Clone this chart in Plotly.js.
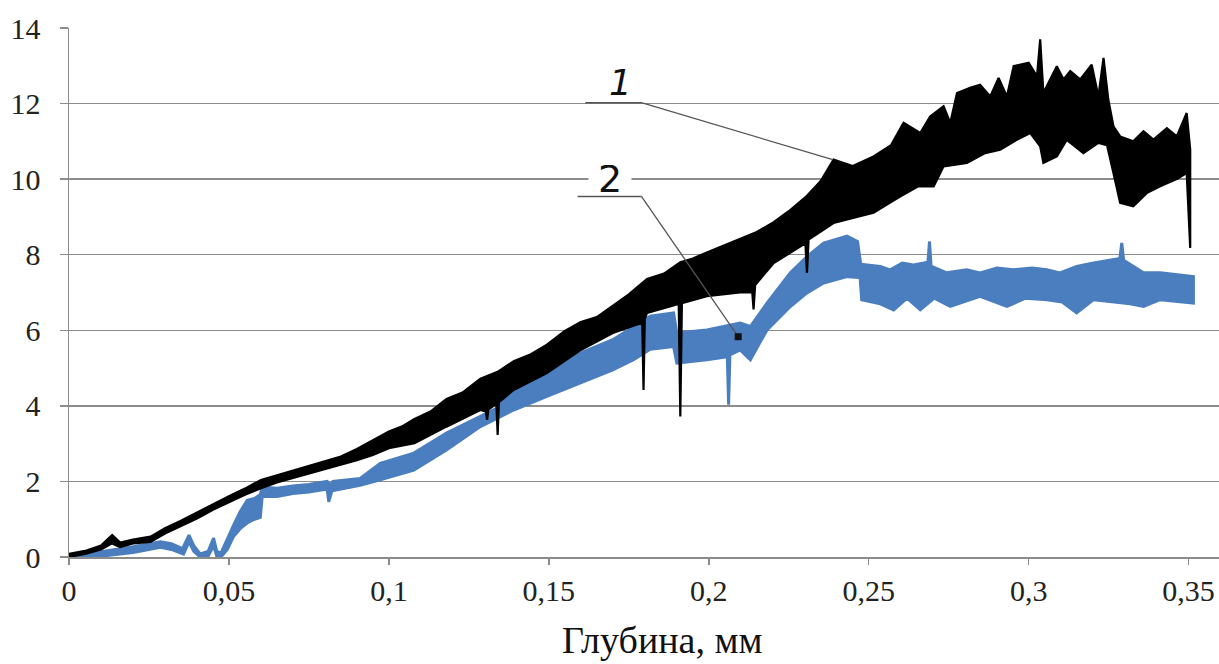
<!DOCTYPE html>
<html>
<head>
<meta charset="utf-8">
<script src="https://cdn.plot.ly/plotly-3.0.1.min.js"></script>
<style>html,body{margin:0;padding:0;background:#fff;}#chart{width:1219px;height:664px;}</style>
</head>
<body>
<div id="chart"></div>
<script>
// Series 1 (black) – upper and lower envelope of the noisy trace
const s1UpperX = [0,0.005,0.010,0.0135,0.016,0.02,0.0255,0.03,0.035,0.04,0.045,0.05,0.055,0.06,0.065,0.07,0.075,0.08,0.085,0.09,0.095,0.1,0.104,0.108,0.113,0.118,0.123,0.1286,0.134,0.139,0.144,0.1494,0.155,0.16,0.165,0.17,0.175,0.1807,0.186,0.1911,0.195,0.1994,0.205,0.2098,0.215,0.2203,0.225,0.2307,0.235,0.239,0.245,0.2515,0.257,0.2609,0.2661,0.2692,0.2734,0.2755,0.2776,0.2817,0.2848,0.288,0.2906,0.2932,0.2953,0.3,0.3026,0.3036,0.3046,0.3088,0.3109,0.313,0.3161,0.3197,0.3218,0.3234,0.3249,0.3265,0.3286,0.3327,0.3359,0.339,0.3432,0.3463,0.3494,0.3505];
const s1UpperY = [0.08,0.16,0.3,0.58,0.38,0.46,0.54,0.76,0.96,1.18,1.41,1.61,1.81,2.04,2.16,2.28,2.42,2.54,2.66,2.86,3.1,3.32,3.45,3.65,3.85,4.18,4.35,4.72,4.9,5.18,5.35,5.62,5.98,6.22,6.35,6.66,6.95,7.36,7.5,7.8,7.9,8.06,8.25,8.42,8.6,8.86,9.15,9.56,9.95,10.52,10.35,10.6,10.9,11.49,11.22,11.66,11.93,11.49,12.28,12.42,12.5,12.19,12.68,12.19,12.99,13.08,12.72,13.7,12.28,12.99,12.64,12.86,12.64,13.03,12.19,13.21,12.1,11.4,11.13,11.0,11.27,11.05,11.35,11.13,11.75,10.78];
const s1LowerX = [0,0.005,0.010,0.0135,0.016,0.02,0.0255,0.03,0.035,0.04,0.045,0.05,0.055,0.06,0.065,0.07,0.075,0.08,0.085,0.09,0.095,0.1,0.108,0.118,0.1286,0.1303,0.1307,0.1311,0.1336,0.134,0.1344,0.139,0.1494,0.16,0.17,0.1792,0.1796,0.18,0.1807,0.1906,0.1911,0.1916,0.1994,0.2098,0.2136,0.214,0.2145,0.2203,0.2302,0.2307,0.2312,0.239,0.2515,0.2598,0.2655,0.2703,0.2734,0.2807,0.2864,0.2911,0.2963,0.3005,0.3036,0.3046,0.3088,0.3119,0.3171,0.3218,0.3245,0.3265,0.3286,0.3327,0.3369,0.3411,0.3463,0.3494,0.3505];
const s1LowerY = [0,0.08,0.2,0.36,0.26,0.36,0.4,0.62,0.82,1.02,1.25,1.45,1.65,1.82,1.97,2.08,2.22,2.34,2.44,2.56,2.7,2.88,3.01,3.45,3.89,3.85,3.63,3.9,4.05,3.23,4.1,4.42,4.87,5.48,5.93,6.2,4.42,6.3,6.46,6.7,3.72,6.72,6.9,7.0,7.0,6.55,7.2,7.78,8.3,7.52,8.4,8.84,9.11,9.54,9.81,9.81,10.34,10.43,10.69,10.78,11.04,11.22,10.87,10.43,10.6,11.04,10.69,10.96,10.9,10.16,9.37,9.28,9.63,9.81,10.0,10.16,8.18];

// Series 2 (blue) – upper and lower envelope
const s2UpperX = [0,0.01,0.02,0.0286,0.032,0.0355,0.0375,0.039,0.041,0.0435,0.0452,0.0462,0.0475,0.0495,0.0515,0.0535,0.0557,0.058,0.0598,0.0604,0.065,0.07,0.075,0.0807,0.0817,0.0825,0.091,0.0973,0.1078,0.118,0.1286,0.134,0.139,0.1494,0.16,0.17,0.1765,0.1817,0.189,0.19,0.1994,0.2098,0.213,0.2182,0.2255,0.2307,0.2359,0.2432,0.2465,0.2475,0.2536,0.2567,0.2605,0.264,0.2685,0.269,0.2695,0.2744,0.2806,0.2848,0.2901,0.2952,0.3011,0.3057,0.3098,0.315,0.3203,0.3285,0.3291,0.3297,0.3317,0.3359,0.3411,0.3515];
const s2UpperY = [0.04,0.14,0.27,0.4,0.35,0.22,0.58,0.3,0.08,0.15,0.5,0.15,0.1,0.5,0.85,1.2,1.5,1.55,1.65,1.85,1.82,1.88,1.92,2.0,1.9,2.0,2.08,2.48,2.75,3.28,3.72,3.95,4.51,4.95,5.4,5.75,6.1,6.37,6.46,5.93,6.01,6.19,6.1,6.72,7.52,7.95,8.31,8.49,8.35,7.75,7.69,7.6,7.78,7.73,7.8,8.35,7.7,7.52,7.6,7.52,7.65,7.6,7.65,7.6,7.52,7.69,7.78,7.9,8.31,7.85,7.75,7.52,7.52,7.42];
const s2LowerX = [0,0.01,0.02,0.0286,0.032,0.0358,0.0375,0.039,0.041,0.0435,0.0452,0.0462,0.0475,0.0495,0.0515,0.0535,0.0557,0.058,0.0598,0.0604,0.065,0.07,0.075,0.0807,0.0812,0.0822,0.091,0.0973,0.1078,0.118,0.1286,0.139,0.1494,0.16,0.17,0.1765,0.1817,0.189,0.19,0.1994,0.2058,0.2062,0.2066,0.2098,0.213,0.2182,0.2255,0.2307,0.2359,0.2432,0.2473,0.2478,0.2536,0.2578,0.262,0.2661,0.2705,0.2755,0.2848,0.2932,0.2990,0.3057,0.3105,0.315,0.3203,0.3317,0.3359,0.3411,0.3515];
const s2LowerY = [0,0.02,0.12,0.26,0.2,0.08,0.4,0.15,0,0.02,0.3,0.02,0,0.2,0.55,0.75,0.9,1.0,1.05,1.6,1.6,1.68,1.72,1.8,1.46,1.75,1.9,2.04,2.3,2.83,3.45,3.89,4.25,4.6,4.95,5.22,5.5,5.57,5.13,5.22,5.3,4.03,5.35,5.48,5.22,6.01,6.63,6.99,7.25,7.42,7.4,6.81,6.7,6.54,6.85,6.54,6.85,6.63,6.9,6.63,6.85,6.81,6.75,6.46,6.81,6.7,6.63,6.81,6.72];

// Axis ticks
const xTickVals = [0,0.05,0.1,0.15,0.2,0.25,0.3,0.35];
const xTickText = ['0','0,05','0,1','0,15','0,2','0,25','0,3','0,35'];
const yTickVals = [0,2,4,6,8,10,12,14];
const xTitle = 'Глубина, мм';

function band(ux, uy, lx, ly) {
  return {
    x: ux.concat(lx.slice().reverse()),
    y: uy.concat(ly.slice().reverse())
  };
}
const b1 = band(s1UpperX, s1UpperY, s1LowerX, s1LowerY);
const b2 = band(s2UpperX, s2UpperY, s2LowerX, s2LowerY);

const traces = [
  {x: b2.x, y: b2.y, mode: 'lines', fill: 'toself', fillcolor: '#4a7ebf',
   line: {color: '#4a7ebf', width: 3}, hoverinfo: 'skip', showlegend: false},
  {x: b1.x, y: b1.y, mode: 'lines', fill: 'toself', fillcolor: '#000000',
   line: {color: '#000000', width: 2.2}, hoverinfo: 'skip', showlegend: false}
];

const grid = '#8c8c8c';
const serif = 'Liberation Serif, Times New Roman, serif';
const layout = {
  width: 1219, height: 664,
  margin: {l: 68.5, r: 0, t: 28, b: 107},
  paper_bgcolor: '#fff', plot_bgcolor: '#fff',
  showlegend: false,
  xaxis: {
    range: [0, 0.3595], tickvals: xTickVals, ticktext: xTickText,
    showgrid: false, zeroline: false, showline: true, linecolor: grid, linewidth: 1.5,
    ticks: 'outside', ticklen: 6, tickcolor: grid, tickwidth: 1.5,
    ticklabelstandoff: 0,
    tickfont: {family: serif, size: 30, color: '#222'}
  },
  yaxis: {
    range: [0, 14], tickvals: yTickVals,
    showgrid: true, gridcolor: grid, gridwidth: 1.5, zeroline: false,
    showline: true, linecolor: grid, linewidth: 1.5,
    ticks: 'outside', ticklen: 8, tickcolor: grid, tickwidth: 1.5,
    ticklabelstandoff: 13,
    tickfont: {family: serif, size: 30, color: '#222'}
  },
  shapes: [
    {type: 'line', xref: 'x', yref: 'y', x0: 0.1614, y0: 12.02, x1: 0.1792, y1: 12.02, line: {color: '#555', width: 1.5}},
    {type: 'line', xref: 'x', yref: 'y', x0: 0.1792, y0: 12.02, x1: 0.2385, y1: 10.52, line: {color: '#555', width: 1.3}},
    {type: 'line', xref: 'x', yref: 'y', x0: 0.159, y0: 9.54, x1: 0.179, y1: 9.54, line: {color: '#555', width: 1.5}},
    {type: 'line', xref: 'x', yref: 'y', x0: 0.179, y0: 9.54, x1: 0.2092, y1: 5.83, line: {color: '#555', width: 1.3}},
    {type: 'rect', xref: 'x', yref: 'y', xsizemode: 'pixel', ysizemode: 'pixel', xanchor: 0.2092, yanchor: 5.83,
     x0: -3.5, x1: 3.5, y0: -3.5, y1: 3.5, fillcolor: '#111', line: {width: 0}}
  ],
  annotations: [
    {xref: 'x', yref: 'y', x: 0.1723, y: 12.55, text: '<i>1</i>', showarrow: false,
     font: {family: 'DejaVu Sans, Arial, sans-serif', size: 36, color: '#111'}},
    {xref: 'x', yref: 'y', x: 0.1690, y: 10.0, text: '2', showarrow: false, bgcolor: '#fff',
     height: 28, width: 42, borderpad: 0,
     font: {family: 'DejaVu Sans, Arial, sans-serif', size: 38, color: '#111'}},
    {xref: 'paper', yref: 'paper', x: 0.5159, y: -0.157, yanchor: 'middle', text: xTitle, showarrow: false,
     font: {family: serif, size: 38, color: '#111'}}
  ]
};

Plotly.newPlot('chart', traces, layout, {displayModeBar: false, staticPlot: true});
</script>
</body>
</html>
